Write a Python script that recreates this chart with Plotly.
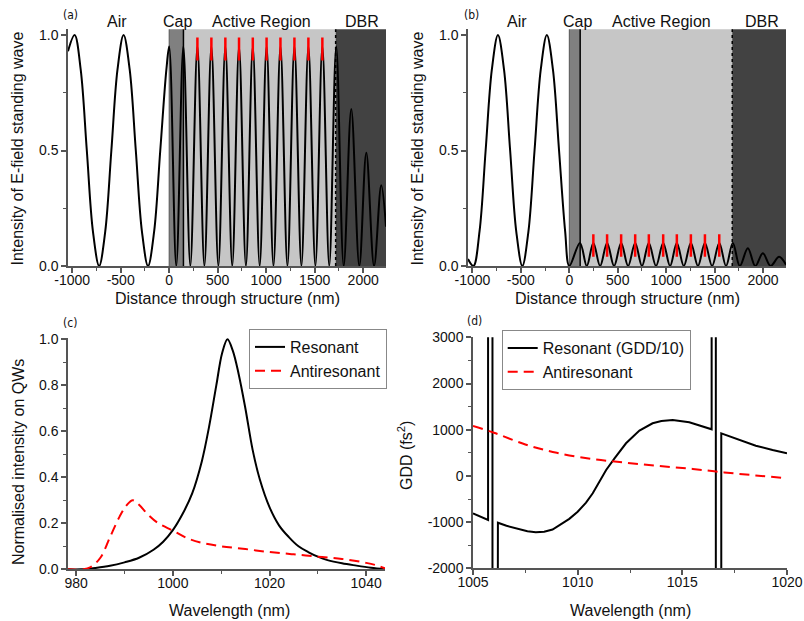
import plotly.graph_objects as go

# ---- (a) resonant structure: E-field intensity vs depth ----
dist_a = [-1043, -975, -912, -849, -786, -722, -659, -596, -533, -470, -407, -344, -281, -218,
          -155, -92, -29, 0,
          73, 146, 218, 291, 363, 435, 507, 579, 650, 720, 791, 862, 933, 1004,
          1075, 1147, 1219, 1291, 1363, 1435, 1507, 1579, 1650, 1722,
          1799, 1877, 1960, 2032, 2112, 2186, 2235]
int_a = [0.93, 1.0, 0.85, 0.5, 0.15, 0.0, 0.15, 0.5, 0.85, 1.0, 0.85, 0.5, 0.15, 0.0,
         0.15, 0.5, 0.85, 0.95,
         0.0, 0.95, 0.0, 0.95, 0.0, 0.95, 0.0, 0.95, 0.0, 0.95, 0.0, 0.95, 0.0, 0.95,
         0.0, 0.95, 0.0, 0.95, 0.0, 0.95, 0.0, 0.95, 0.0, 0.95,
         0.0, 0.68, 0.0, 0.49, 0.0, 0.35, 0.17]
qw_a = [291, 435, 579, 720, 862, 1004, 1147, 1291, 1435, 1579]
qw_a_lo = 0.89
qw_a_hi = 0.99
layers_a = [0, 147, 1716]   # cap start, active start, DBR start (nm)

# ---- (b) antiresonant structure ----
dist_b = [-1046, -990, -927, -864, -800, -737, -674, -611, -548, -485, -422, -359, -295, -232,
          -169, -106, -43, 0,
          110, 180, 248, 318, 390, 462, 535, 607, 680, 750, 821, 895, 969, 1040,
          1110, 1182, 1255, 1328, 1400, 1474, 1548, 1618, 1688,
          1760, 1843, 1920, 1998, 2078, 2166, 2237]
int_b = [0.03, 0.0, 0.15, 0.5, 0.85, 1.0, 0.85, 0.5, 0.15, 0.0, 0.15, 0.5, 0.85, 1.0,
         0.85, 0.5, 0.15, 0.0,
         0.10, 0.0, 0.10, 0.0, 0.10, 0.0, 0.10, 0.0, 0.10, 0.0, 0.10, 0.0, 0.10, 0.0,
         0.10, 0.0, 0.10, 0.0, 0.10, 0.0, 0.10, 0.0, 0.10,
         0.0, 0.077, 0.0, 0.055, 0.0, 0.04, 0.005]
qw_b = [248, 390, 535, 680, 821, 969, 1110, 1255, 1400, 1548]
qw_b_lo = 0.04
qw_b_hi = 0.137
layers_b = [0, 112, 1682]

# ---- (c) normalised intensity on QWs ----
wl_res_c = [978, 981, 984, 987, 990, 993, 996, 998, 1000, 1002, 1004, 1006, 1007.5, 1009,
            1010.2, 1011.3, 1012.4, 1013.6, 1015, 1016.5, 1018, 1020, 1022, 1024, 1026,
            1028, 1030, 1032, 1035, 1038, 1041, 1044]
res_c = [0.0, 0.0, 0.006, 0.015, 0.03, 0.05, 0.085, 0.12, 0.17, 0.24, 0.33, 0.47, 0.62, 0.8,
         0.94, 1.0, 0.95, 0.85, 0.7, 0.52, 0.39, 0.27, 0.19, 0.14, 0.1,
         0.075, 0.055, 0.04, 0.026, 0.016, 0.007, 0.0]
wl_anti_c = [978, 981.5, 983, 985, 987, 989, 990.5, 991.7, 993, 995, 997, 1000, 1003, 1006,
             1010, 1015, 1020, 1025, 1030, 1035, 1040, 1042, 1044]
anti_c = [0.0, 0.0, 0.01, 0.05, 0.14, 0.23, 0.28, 0.30, 0.28, 0.235, 0.2, 0.168, 0.135, 0.115,
          0.1, 0.088, 0.075, 0.065, 0.055, 0.045, 0.028, 0.018, 0.003]

# ---- (d) GDD ----  (1e5 marks values far off scale at the resonances)
wl_res_d = [1005.0, 1005.3, 1005.72, 1005.72, 1005.93, 1005.93, 1006.19, 1006.19, 1006.6,
            1007.2, 1007.6, 1008.0, 1008.4, 1008.8, 1009.13, 1009.6, 1010.0, 1010.4, 1010.72,
            1011.05, 1011.36, 1011.76, 1012.31, 1012.95, 1013.58, 1014.0, 1014.54, 1015.33,
            1016.0, 1016.40, 1016.40, 1016.6, 1016.6, 1016.86, 1016.86, 1017.72, 1018.51,
            1019.31, 1020.0]
gdd_res_d = [-810, -870, -955, 1e5, 1e5, -1e5, -1e5, -1013, -1080,
             -1160, -1200, -1220, -1210, -1160, -1070, -930, -775, -580, -377,
             -130, 128, 381, 706, 980, 1139, 1190, 1210, 1160,
             1070, 1009, 1e5, 1e5, -1e5, -1e5, 922, 777, 654,
             562, 490]
wl_anti_d = [1005, 1006, 1007.5, 1009, 1010.7, 1012.3, 1013.9, 1015.5, 1017, 1018.5, 1020]
gdd_anti_d = [1080, 935, 680, 500, 366, 286, 214, 150, 75, 10, -52]

W, H = 804, 621
FONT = "Arial, Liberation Sans, sans-serif"
RED = "#ff0000"

fig = go.Figure()

# standing waves
fig.add_trace(go.Scatter(x=dist_a, y=int_a, mode="lines", line=dict(color="black", width=2, shape="spline"),
                         xaxis="x", yaxis="y", showlegend=False))
fig.add_trace(go.Scatter(x=dist_b, y=int_b, mode="lines", line=dict(color="black", width=2, shape="spline"),
                         xaxis="x2", yaxis="y2", showlegend=False))

# quantum well markers
def qw_segments(pos, lo, hi):
    xs, ys = [], []
    for p in pos:
        xs += [p, p, None]
        ys += [lo, hi, None]
    return xs, ys

qx, qy = qw_segments(qw_a, qw_a_lo, qw_a_hi)
fig.add_trace(go.Scatter(x=qx, y=qy, mode="lines", line=dict(color=RED, width=2.5),
                         xaxis="x", yaxis="y", showlegend=False))
qx, qy = qw_segments(qw_b, qw_b_lo, qw_b_hi)
fig.add_trace(go.Scatter(x=qx, y=qy, mode="lines", line=dict(color=RED, width=2.5),
                         xaxis="x2", yaxis="y2", showlegend=False))

# (c)
fig.add_trace(go.Scatter(x=wl_res_c, y=res_c, mode="lines", name="Resonant",
                         line=dict(color="black", width=2, shape="spline"),
                         xaxis="x3", yaxis="y3", legend="legend"))
fig.add_trace(go.Scatter(x=wl_anti_c, y=anti_c, mode="lines", name="Antiresonant",
                         line=dict(color=RED, width=2, dash="10px,6px", shape="spline"),
                         xaxis="x3", yaxis="y3", legend="legend"))
# (d)
fig.add_trace(go.Scatter(x=wl_res_d, y=gdd_res_d, mode="lines", name="Resonant (GDD/10)",
                         line=dict(color="black", width=2),
                         xaxis="x4", yaxis="y4", legend="legend2"))
fig.add_trace(go.Scatter(x=wl_anti_d, y=gdd_anti_d, mode="lines", name="Antiresonant",
                         line=dict(color=RED, width=2, dash="10px,6px", shape="spline"),
                         xaxis="x4", yaxis="y4", legend="legend2"))

# layer shading
shapes = []
for xr, layers, xend in (("x", layers_a, 2235), ("x2", layers_b, 2237)):
    yr = xr.replace("x", "y") + " domain"
    bounds = layers + [xend]
    fills = ["#808080", "#c6c6c6", "#424242"]
    for i in range(3):
        shapes.append(dict(type="rect", xref=xr, yref=yr,
                           x0=bounds[i], x1=bounds[i + 1], y0=0, y1=1,
                           fillcolor=fills[i], line=dict(width=0), layer="below"))
    shapes.append(dict(type="line", xref=xr, yref=yr, x0=layers[0], x1=layers[0], y0=0, y1=1,
                       line=dict(color="#555", width=1), layer="below"))
    shapes.append(dict(type="line", xref=xr, yref=yr, x0=layers[1], x1=layers[1], y0=0, y1=1,
                       line=dict(color="black", width=1.5), layer="below"))
    shapes.append(dict(type="line", xref=xr, yref=yr, x0=layers[2], x1=layers[2], y0=0, y1=1,
                       line=dict(color="black", width=1.5, dash="dot"), layer="below"))

axis_style = dict(showline=True, linecolor="#555", linewidth=1.5, ticks="outside", ticklen=5,
                  tickwidth=1.5, tickcolor="#555", showgrid=False, zeroline=False, automargin=False,
                  tickfont=dict(size=14, color="#111", family=FONT))
x_style = dict(axis_style, ticklabelstandoff=-5)

def minor(dt, t0):
    return dict(ticks="outside", ticklen=3, tickwidth=1, tickcolor="#555", dtick=dt, tick0=t0, showgrid=False)

dist_ticks = [-1000, -500, 0, 500, 1000, 1500, 2000]
dist_text = ["-1000", "-500", "0", "500", "1000", "1500", "2000"]
gdd_ticks = [-2000, -1000, 0, 1000, 2000, 3000]
gdd_text = ["-2000", "-1000", "0", "1000", "2000", "3000"]

def px(v):
    return v / W

def py(v):
    return 1 - v / H

fig.update_layout(
    template="none",
    width=W, height=H, margin=dict(l=0, r=0, t=0, b=0, pad=0),
    paper_bgcolor="white", plot_bgcolor="white",
    font=dict(family=FONT, color="#111", size=16),
    shapes=shapes,
    xaxis=dict(x_style, domain=[px(68), px(386)], range=[-1043, 2235], anchor="y",
               tickvals=dist_ticks, ticktext=dist_text, minor=minor(250, -1000)),
    yaxis=dict(axis_style, domain=[py(266), py(29.3)], range=[0, 1.025], anchor="x",
               dtick=0.5, tick0=0, tickformat=".1f", minor=minor(0.25, 0)),
    xaxis2=dict(x_style, domain=[px(468), px(786)], range=[-1046, 2237], anchor="y2",
                tickvals=dist_ticks, ticktext=dist_text, minor=minor(250, -1000)),
    yaxis2=dict(axis_style, domain=[py(266), py(29.3)], range=[0, 1.025], anchor="x2",
                dtick=0.5, tick0=0, tickformat=".1f", minor=minor(0.25, 0)),
    xaxis3=dict(x_style, domain=[px(68), px(385)], range=[978.3, 1043.9], anchor="y3",
                dtick=20, tick0=980, minor=minor(10, 980)),
    yaxis3=dict(axis_style, domain=[py(569.3), py(338)], range=[0, 1.005], anchor="x3",
                dtick=0.2, tick0=0, tickformat=".1f", minor=minor(0.1, 0)),
    xaxis4=dict(x_style, domain=[px(473), px(787)], range=[1005, 1020], anchor="y4",
                dtick=5, tick0=1005, minor=minor(2.5, 1005)),
    yaxis4=dict(axis_style, domain=[py(568.3), py(337.3)], range=[-2000, 3000], anchor="x4",
                tickvals=gdd_ticks, ticktext=gdd_text, minor=minor(500, -2000)),
    legend=dict(x=px(387), y=py(329), xanchor="right", yanchor="top",
                bgcolor="rgba(255,255,255,0)", bordercolor="#888", borderwidth=1,
                font=dict(size=16, family=FONT, color="#111"), tracegroupgap=0),
    legend2=dict(x=px(501.7), y=py(330), xanchor="left", yanchor="top",
                 bgcolor="rgba(255,255,255,0)", bordercolor="#888", borderwidth=1,
                 font=dict(size=16, family=FONT, color="#111"), tracegroupgap=0),
)

ann = []
# axis titles
for text, x, y, ang in [
    ("Intensity of E-field standing wave", 17, 148.5, -90),
    ("Intensity of E-field standing wave", 417, 148.5, -90),
    ("Distance through structure (nm)", 227, 298, 0),
    ("Distance through structure (nm)", 627, 298, 0),
    ("Normalised intensity on QWs", 18, 462, -90),
    ("GDD (fs<sup>2</sup>)", 405, 455, -90),
    ("Wavelength (nm)", 229, 610, 0),
    ("Wavelength (nm)", 630, 610, 0),
]:
    ann.append(dict(text=text, x=px(x), y=py(y), xref="paper", yref="paper", showarrow=False,
                    textangle=ang, xanchor="center", yanchor="middle",
                    font=dict(size=16, family=FONT, color="#111")))
# panel letters
for text, x, y in [("(a)", 70, 15), ("(b)", 471, 15), ("(c)", 70, 323), ("(d)", 475, 321)]:
    ann.append(dict(text=text, x=px(x), y=py(y), xref="paper", yref="paper", showarrow=False,
                    xanchor="center", yanchor="middle",
                    font=dict(size=12, family="DejaVu Sans Condensed, Liberation Sans Narrow, sans-serif",
                              color="#111")))
# layer labels
for xr in ("x", "x2"):
    for text, xv in [("Air", -537), ("Cap", 81), ("Active Region", 955), ("DBR", 1992)]:
        ann.append(dict(text=text, x=xv, y=py(21), xref=xr, yref="paper", showarrow=False,
                        xanchor="center", yanchor="middle",
                        font=dict(size=16, family=FONT, color="#111")))
fig.update_layout(annotations=ann)

fig.write_html("out.html", config={"displayModeBar": False},
               post_script="document.body.style.margin='0';document.body.style.overflow='hidden';")
